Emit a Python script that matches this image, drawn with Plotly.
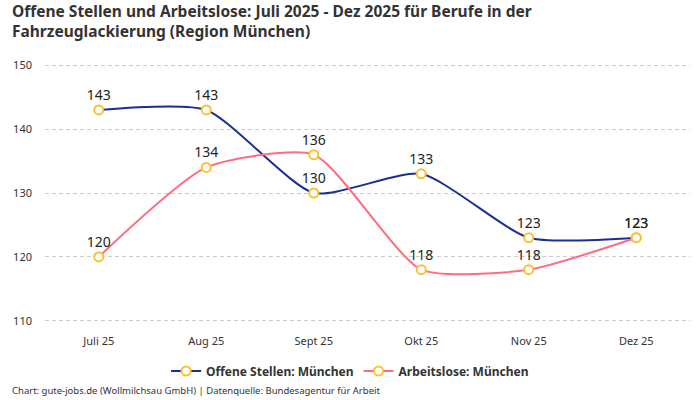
import plotly.graph_objects as go

months = ["Juli 25", "Aug 25", "Sept 25", "Okt 25", "Nov 25", "Dez 25"]
offene_stellen = [143, 143, 130, 133, 123, 123]
arbeitslose = [120, 134, 136, 118, 118, 123]

FONT = "Noto Sans"
BLUE = "#1b2e94"
PINK = "#ff6b81"
YELLOW = "#f9c22e"

fig = go.Figure()
for name, vals, col in [("<b>Offene Stellen: München</b>", offene_stellen, BLUE),
                        ("<b>Arbeitslose: München</b>", arbeitslose, PINK)]:
    fig.add_trace(go.Scatter(
        x=months, y=vals, name=name, mode="lines+markers+text",
        line=dict(color=col, width=2, shape="spline", smoothing=0.6),
        marker=dict(size=9, color="white", line=dict(color=YELLOW, width=2)),
        text=[str(v) for v in vals], textposition="top center",
        textfont=dict(family=FONT, size=14, color="#222"),
        cliponaxis=False,
    ))

fig.update_layout(
    width=700, height=400,
    margin=dict(l=45, r=10, t=61.8, b=75.8, autoexpand=False),
    paper_bgcolor="white", plot_bgcolor="white",
    xaxis=dict(range=[-0.5, 5.5], showgrid=False, zeroline=False, showline=False,
               ticks="", automargin=False, ticklabelstandoff=9,
               tickfont=dict(family=FONT, size=11, color="#333")),
    yaxis=dict(range=[109.5, 150.5], tick0=110, dtick=10, showgrid=True, gridcolor="#cccccc",
               griddash="4px,3px", zeroline=False, showline=False, ticks="", automargin=False,
               ticklabelstandoff=12,
               tickfont=dict(family=FONT, size=11, color="#333")),
    legend=dict(orientation="h", x=0.473, xanchor="center", y=-0.124, yanchor="top",
                font=dict(family=FONT, size=12, color="#333")),
    showlegend=True,
)
fig.add_annotation(text="<b>Offene Stellen und Arbeitslose: Juli 2025 - Dez 2025 für Berufe in der<br>Fahrzeuglackierung (Region München)</b>",
                   xref="paper", yref="paper", x=-0.054, y=1.2434, xanchor="left", yanchor="top",
                   align="left", showarrow=False,
                   font=dict(family=FONT, size=15.5, color="#333"))
fig.add_annotation(text="Chart: gute-jobs.de (Wollmilchsau GmbH) | Datenquelle: Bundesagentur für Arbeit",
                   xref="paper", yref="paper", x=-0.054, y=-0.222, xanchor="left", yanchor="top",
                   showarrow=False, font=dict(family=FONT, size=9.5, color="#333"))
fig.write_html("out.html", config={"displayModeBar": False},
               post_script="document.body.style.margin='0';document.body.style.overflow='hidden';")
